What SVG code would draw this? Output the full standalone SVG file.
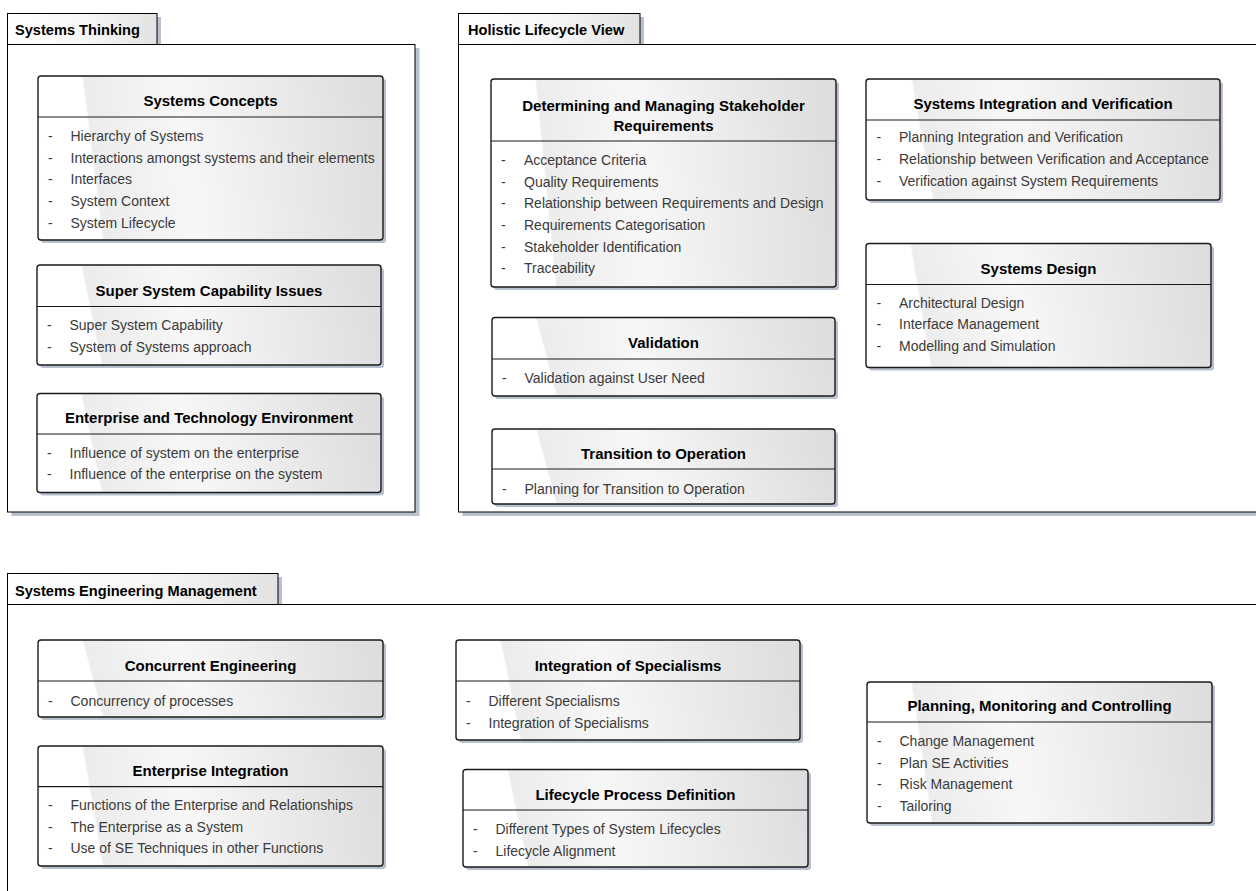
<svg xmlns="http://www.w3.org/2000/svg" width="1256" height="891" viewBox="0 0 1256 891">
<defs>
<linearGradient id="nodeFill" x1="0" y1="0.06" x2="1" y2="0">
<stop offset="0" stop-color="#ffffff"/>
<stop offset="0.13" stop-color="#ffffff"/>
<stop offset="0.135" stop-color="#ececec"/>
<stop offset="0.4" stop-color="#f7f7f7"/>
<stop offset="1" stop-color="#dcdcdc"/>
</linearGradient>
<linearGradient id="tabFill" x1="0" y1="0" x2="1" y2="0">
<stop offset="0" stop-color="#ffffff"/>
<stop offset="0.5" stop-color="#f8f8f8"/>
<stop offset="1" stop-color="#e2e2e2"/>
</linearGradient>
<style>
.pshadow{fill:#b8c0cf}
.pbody{fill:#ffffff;stroke:#000;stroke-width:1}
.ptab{fill:url(#tabFill);stroke:#000;stroke-width:1}
.ptitle{font-family:"Liberation Sans",Arial,sans-serif;font-weight:bold;font-size:14.6px;fill:#000}
.nshadow{fill:#b8c0cf}
.node{fill:url(#nodeFill);stroke:#1a1a1a;stroke-width:1.4}
.div{stroke:#1a1a1a;stroke-width:1.2}
.title{font-family:"Liberation Sans",Arial,sans-serif;font-weight:bold;font-size:15px;fill:#000;text-anchor:middle}
.item{font-family:"Liberation Sans",Arial,sans-serif;font-size:14px;fill:#3a3a3a}
</style>
</defs>

<g id="pkg-systems-thinking">
<rect class="pshadow" x="157" y="17" width="4" height="28"/>
<rect class="pshadow" x="11.5" y="48" width="408" height="468"/>
<rect class="pbody" x="7.5" y="44.5" width="407.5" height="467.5"/>
<rect class="ptab" x="7.5" y="13.5" width="149.5" height="31"/>
<text class="ptitle" x="15" y="35">Systems Thinking</text>
</g>

<g id="pkg-holistic-lifecycle">
<rect class="pshadow" x="640" y="17" width="4" height="28"/>
<rect class="pshadow" x="462.5" y="48" width="820" height="468"/>
<rect class="pbody" x="458.5" y="44.5" width="820" height="467.5"/>
<rect class="ptab" x="458.5" y="13.5" width="181.5" height="31"/>
<text class="ptitle" x="468" y="35">Holistic Lifecycle View</text>
</g>

<g id="pkg-se-management">
<rect class="pshadow" x="278" y="577" width="4" height="28"/>
<rect class="pshadow" x="11.5" y="608" width="1300" height="400"/>
<rect class="pbody" x="7.5" y="604.5" width="1300" height="400"/>
<rect class="ptab" x="7.5" y="573.5" width="270.5" height="31"/>
<text class="ptitle" x="15" y="596">Systems Engineering Management</text>
</g>

<g id="connectors"></g>

<g id="n-systems-concepts">
<rect class="nshadow" x="41" y="79" width="345" height="164" rx="3"/>
<rect class="node" x="38" y="76" width="345" height="164" rx="3"/>
<line class="div" x1="38" y1="117" x2="383" y2="117"/>
<text class="title" x="210.5" y="106">Systems Concepts</text>
<text class="item" x="48" y="141">-</text><text class="item" x="70.5" y="141">Hierarchy of Systems</text>
<text class="item" x="48" y="162.7">-</text><text class="item" x="70.5" y="162.7">Interactions amongst systems and their elements</text>
<text class="item" x="48" y="184.3">-</text><text class="item" x="70.5" y="184.3">Interfaces</text>
<text class="item" x="48" y="206">-</text><text class="item" x="70.5" y="206">System Context</text>
<text class="item" x="48" y="227.5">-</text><text class="item" x="70.5" y="227.5">System Lifecycle</text>
</g>

<g id="n-super-system">
<rect class="nshadow" x="40" y="268" width="344" height="100" rx="3"/>
<rect class="node" x="37" y="265" width="344" height="100" rx="3"/>
<line class="div" x1="37" y1="306.5" x2="381" y2="306.5"/>
<text class="title" x="209" y="295.5">Super System Capability Issues</text>
<text class="item" x="47" y="330">-</text><text class="item" x="69.5" y="330">Super System Capability</text>
<text class="item" x="47" y="351.7">-</text><text class="item" x="69.5" y="351.7">System of Systems approach</text>
</g>

<g id="n-enterprise-tech">
<rect class="nshadow" x="40" y="396.5" width="344" height="99" rx="3"/>
<rect class="node" x="37" y="393.5" width="344" height="99" rx="3"/>
<line class="div" x1="37" y1="434" x2="381" y2="434"/>
<text class="title" x="209" y="423">Enterprise and Technology Environment</text>
<text class="item" x="47" y="457.7">-</text><text class="item" x="69.5" y="457.7">Influence of system on the enterprise</text>
<text class="item" x="47" y="479.3">-</text><text class="item" x="69.5" y="479.3">Influence of the enterprise on the system</text>
</g>

<g id="n-stakeholder-req">
<rect class="nshadow" x="494" y="82" width="345" height="208" rx="3"/>
<rect class="node" x="491" y="79" width="345" height="208" rx="3"/>
<line class="div" x1="491" y1="141" x2="836" y2="141"/>
<text class="title" x="663.5" y="110.5">Determining and Managing Stakeholder</text>
<text class="title" x="663.5" y="130.5">Requirements</text>
<text class="item" x="501" y="165">-</text><text class="item" x="524" y="165">Acceptance Criteria</text>
<text class="item" x="501" y="186.7">-</text><text class="item" x="524" y="186.7">Quality Requirements</text>
<text class="item" x="501" y="208.3">-</text><text class="item" x="524" y="208.3">Relationship between Requirements and Design</text>
<text class="item" x="501" y="230">-</text><text class="item" x="524" y="230">Requirements Categorisation</text>
<text class="item" x="501" y="251.7">-</text><text class="item" x="524" y="251.7">Stakeholder Identification</text>
<text class="item" x="501" y="273.3">-</text><text class="item" x="524" y="273.3">Traceability</text>
</g>

<g id="n-validation">
<rect class="nshadow" x="495" y="320.5" width="343" height="78.5" rx="3"/>
<rect class="node" x="492" y="317.5" width="343" height="78.5" rx="3"/>
<line class="div" x1="492" y1="359" x2="835" y2="359"/>
<text class="title" x="663.5" y="348">Validation</text>
<text class="item" x="502" y="383.3">-</text><text class="item" x="524.5" y="383.3">Validation against User Need</text>
</g>

<g id="n-transition">
<rect class="nshadow" x="495" y="432" width="343" height="75" rx="3"/>
<rect class="node" x="492" y="429" width="343" height="75" rx="3"/>
<line class="div" x1="492" y1="469" x2="835" y2="469"/>
<text class="title" x="663.5" y="459">Transition to Operation</text>
<text class="item" x="502" y="494.3">-</text><text class="item" x="524.5" y="494.3">Planning for Transition to Operation</text>
</g>

<g id="n-integration-verification">
<rect class="nshadow" x="869" y="82" width="354" height="121" rx="3"/>
<rect class="node" x="866" y="79" width="354" height="121" rx="3"/>
<line class="div" x1="866" y1="120" x2="1220" y2="120"/>
<text class="title" x="1043" y="108.5">Systems Integration and Verification</text>
<text class="item" x="876.5" y="142.3">-</text><text class="item" x="899" y="142.3">Planning Integration and Verification</text>
<text class="item" x="876.5" y="164">-</text><text class="item" x="899" y="164">Relationship between Verification and Acceptance</text>
<text class="item" x="876.5" y="185.7">-</text><text class="item" x="899" y="185.7">Verification against System Requirements</text>
</g>

<g id="n-systems-design">
<rect class="nshadow" x="869" y="246.5" width="345" height="124" rx="3"/>
<rect class="node" x="866" y="243.5" width="345" height="124" rx="3"/>
<line class="div" x1="866" y1="284.5" x2="1211" y2="284.5"/>
<text class="title" x="1038.5" y="273.5">Systems Design</text>
<text class="item" x="876.5" y="307.7">-</text><text class="item" x="899" y="307.7">Architectural Design</text>
<text class="item" x="876.5" y="329.3">-</text><text class="item" x="899" y="329.3">Interface Management</text>
<text class="item" x="876.5" y="351">-</text><text class="item" x="899" y="351">Modelling and Simulation</text>
</g>

<g id="n-concurrent-eng">
<rect class="nshadow" x="41" y="643" width="345" height="77" rx="3"/>
<rect class="node" x="38" y="640" width="345" height="77" rx="3"/>
<line class="div" x1="38" y1="681" x2="383" y2="681"/>
<text class="title" x="210.5" y="671">Concurrent Engineering</text>
<text class="item" x="48" y="705.7">-</text><text class="item" x="70.5" y="705.7">Concurrency of processes</text>
</g>

<g id="n-enterprise-integration">
<rect class="nshadow" x="41" y="749" width="345" height="120" rx="3"/>
<rect class="node" x="38" y="746" width="345" height="120" rx="3"/>
<line class="div" x1="38" y1="786.7" x2="383" y2="786.7"/>
<text class="title" x="210.5" y="776">Enterprise Integration</text>
<text class="item" x="48" y="810">-</text><text class="item" x="70.5" y="810">Functions of the Enterprise and Relationships</text>
<text class="item" x="48" y="831.7">-</text><text class="item" x="70.5" y="831.7">The Enterprise as a System</text>
<text class="item" x="48" y="853.3">-</text><text class="item" x="70.5" y="853.3">Use of SE Techniques in other Functions</text>
</g>

<g id="n-integration-specialisms">
<rect class="nshadow" x="459" y="643" width="344" height="100" rx="3"/>
<rect class="node" x="456" y="640" width="344" height="100" rx="3"/>
<line class="div" x1="456" y1="681" x2="800" y2="681"/>
<text class="title" x="628" y="671">Integration of Specialisms</text>
<text class="item" x="466" y="706">-</text><text class="item" x="488.5" y="706">Different Specialisms</text>
<text class="item" x="466" y="727.7">-</text><text class="item" x="488.5" y="727.7">Integration of Specialisms</text>
</g>

<g id="n-lifecycle-process">
<rect class="nshadow" x="466" y="772.5" width="345" height="97.5" rx="3"/>
<rect class="node" x="463" y="769.5" width="345" height="97.5" rx="3"/>
<line class="div" x1="463" y1="810" x2="808" y2="810"/>
<text class="title" x="635.5" y="799.5">Lifecycle Process Definition</text>
<text class="item" x="473" y="834.3">-</text><text class="item" x="495.5" y="834.3">Different Types of System Lifecycles</text>
<text class="item" x="473" y="856">-</text><text class="item" x="495.5" y="856">Lifecycle Alignment</text>
</g>

<g id="n-planning-monitoring">
<rect class="nshadow" x="870" y="685" width="345" height="141" rx="3"/>
<rect class="node" x="867" y="682" width="345" height="141" rx="3"/>
<line class="div" x1="867" y1="722" x2="1212" y2="722"/>
<text class="title" x="1039.5" y="711">Planning, Monitoring and Controlling</text>
<text class="item" x="877" y="746">-</text><text class="item" x="899.5" y="746">Change Management</text>
<text class="item" x="877" y="767.7">-</text><text class="item" x="899.5" y="767.7">Plan SE Activities</text>
<text class="item" x="877" y="789.3">-</text><text class="item" x="899.5" y="789.3">Risk Management</text>
<text class="item" x="877" y="811">-</text><text class="item" x="899.5" y="811">Tailoring</text>
</g>
</svg>
